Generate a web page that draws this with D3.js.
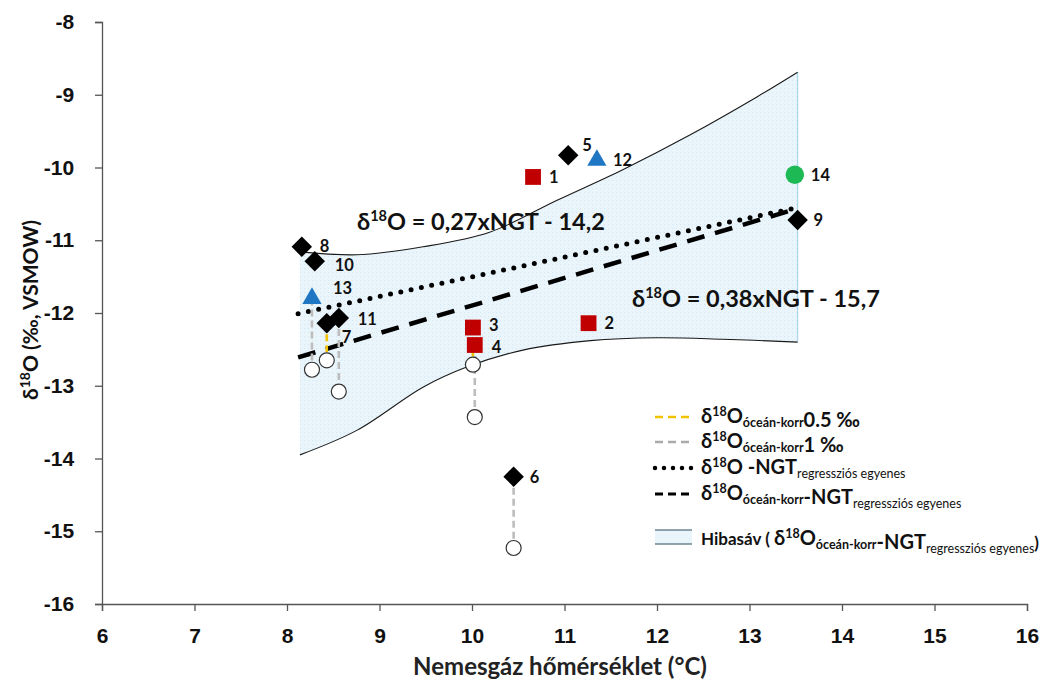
<!DOCTYPE html>
<html>
<head>
<meta charset="utf-8">
<script src="https://cdn.jsdelivr.net/npm/d3@7"></script>
<style>
  body { margin: 0; background: #fff; }
  svg { font-family: Lato, "Open Sans", sans-serif; }
</style>
</head>
<body>
<svg id="chart" width="1059" height="687"></svg>
<script>
// samples: id, noble gas temperature, measured d18O, marker type
var sampleIds = [1, 2, 3, 4, 5, 6, 7, 8, 9, 10, 11, 12, 13, 14];
var ngtValues = [10.66, 11.26, 10.01, 10.03, 11.04, 10.45, 8.43, 8.16, 13.52, 8.30, 8.56, 11.35, 8.27, 13.49];
var d18oValues = [-10.13, -12.14, -12.20, -12.44, -9.83, -14.25, -12.14, -11.09, -10.72, -11.29, -12.07, -9.90, -11.80, -10.10];
var markerTypes = ["square", "square", "square", "square", "diamond", "diamond", "diamond", "diamond", "diamond", "diamond", "diamond", "triangle", "triangle", "circle"];

// ocean corrected values (open circles) and their dashed connectors
var corrNgt = [8.27, 8.43, 8.56, 10.01, 10.03, 10.45];
var corrFrom = [-11.80, -12.14, -12.07, -12.20, -12.44, -14.25];
var corrTo = [-12.78, -12.65, -13.08, -12.71, -13.43, -15.23];
var corrStep = ["1", "0.5", "1", "0.5", "1", "1"];

// regression lines (end points)
var regNgt = [8.12, 13.45];
var regPlain = [-12.01, -10.57];
var regCorr = [-12.61, -10.59];

// error band edges
var bandUpperX = [8.14, 8.76, 9.47, 10.19, 10.92, 11.63, 12.36, 13.08, 13.52];
var bandUpperY = [-11.16, -11.20, -11.09, -10.89, -10.45, -10.03, -9.55, -9.03, -8.69];
var bandLowerX = [8.14, 8.76, 9.47, 9.95, 10.55, 11.28, 12.00, 12.71, 13.52];
var bandLowerY = [-13.95, -13.61, -13.02, -12.74, -12.51, -12.38, -12.34, -12.36, -12.40];

var xTicks = [6, 7, 8, 9, 10, 11, 12, 13, 14, 15, 16];
var yTicks = [-8, -9, -10, -11, -12, -13, -14, -15, -16];

var svg = d3.select("#chart");
var x = d3.scaleLinear().domain([6, 16]).range([102, 1027]);
var y = d3.scaleLinear().domain([-16, -8]).range([604, 22]);

var colors = { square: "#c00000", diamond: "#000", triangle: "#1f77c4", circle: "#1db954" };

// ---- error band
var curve = d3.line().x(function(d) { return x(d[0]); }).y(function(d) { return y(d[1]); }).curve(d3.curveCatmullRom);
var upper = bandUpperX.map(function(v, i) { return [v, bandUpperY[i]]; });
var lower = bandLowerX.map(function(v, i) { return [v, bandLowerY[i]]; });
var defs = svg.append("defs");
var pat = defs.append("pattern").attr("id", "dots").attr("width", 4).attr("height", 4).attr("patternUnits", "userSpaceOnUse");
pat.append("rect").attr("width", 4).attr("height", 4).attr("fill", "#eaf5fb");
pat.append("rect").attr("width", 1).attr("height", 1).attr("fill", "#d3e8f3");
svg.append("path")
  .attr("d", curve(upper) + curve(lower.slice().reverse()).replace(/^M/, "L") + "Z")
  .attr("fill", "url(#dots)");
svg.append("line")
  .attr("x1", x(bandUpperX[bandUpperX.length - 1])).attr("y1", y(bandUpperY[bandUpperY.length - 1]))
  .attr("x2", x(bandLowerX[bandLowerX.length - 1])).attr("y2", y(bandLowerY[bandLowerY.length - 1]))
  .attr("stroke", "#a9d6ec").attr("stroke-width", 1.2);
[upper, lower].forEach(function(pts) {
  svg.append("path").attr("d", curve(pts)).attr("fill", "none").attr("stroke", "#1a1a1a").attr("stroke-width", 1.1);
});

// ---- axes
var xAxis = svg.append("g").attr("transform", "translate(0,604)")
  .call(d3.axisBottom(x).tickValues(xTicks).tickSize(7).tickFormat(function(d) { return String(d); }));
var yAxis = svg.append("g").attr("transform", "translate(102,0)")
  .call(d3.axisLeft(y).tickValues(yTicks).tickSize(7).tickFormat(function(d) { return String(d); }));
[xAxis, yAxis].forEach(function(a) {
  a.select(".domain").attr("stroke", "#555").attr("stroke-width", 1.3);
  a.selectAll(".tick line").attr("stroke", "#555").attr("stroke-width", 1.3);
  a.selectAll(".tick text").attr("fill", "#111").attr("font-size", 21).attr("font-weight", "bold");
});
xAxis.selectAll(".tick text").attr("dy", "1.4em");
yAxis.selectAll(".tick text").attr("dx", "-0.85em");

svg.append("text").attr("x", 560).attr("y", 675).attr("text-anchor", "middle")
  .attr("font-size", 24).attr("font-weight", "bold").attr("fill", "#222")
  .text("Nemesgáz hőmérséklet (°C)");
var yl = svg.append("text").attr("transform", "translate(38,310) rotate(-90)").attr("text-anchor", "middle")
  .attr("font-size", 21).attr("font-weight", "bold").attr("fill", "#111");
yl.append("tspan").text("δ");
yl.append("tspan").attr("font-size", 14).attr("dy", -8).text("18");
yl.append("tspan").attr("dy", 8).text("O (‰, VSMOW)");

// ---- regression lines
svg.append("line")
  .attr("x1", x(regNgt[0])).attr("y1", y(regPlain[0])).attr("x2", x(regNgt[1])).attr("y2", y(regPlain[1]))
  .attr("stroke", "#000").attr("stroke-width", 5).attr("stroke-linecap", "round").attr("stroke-dasharray", "0,10.5");
svg.append("line")
  .attr("x1", x(regNgt[0])).attr("y1", y(regCorr[0])).attr("x2", x(regNgt[1])).attr("y2", y(regCorr[1]))
  .attr("stroke", "#000").attr("stroke-width", 4.5).attr("stroke-dasharray", "18,11");

// ---- corrected values
var stepColor = { "0.5": "#f2c100", "1": "#bdbdbd" };
corrNgt.forEach(function(v, i) {
  svg.append("line")
    .attr("x1", x(v)).attr("y1", y(corrFrom[i])).attr("x2", x(v)).attr("y2", y(corrTo[i]))
    .attr("stroke", stepColor[corrStep[i]]).attr("stroke-width", 2.6).attr("stroke-dasharray", "7,4");
});
corrNgt.forEach(function(v, i) {
  svg.append("circle").attr("cx", x(v)).attr("cy", y(corrTo[i])).attr("r", 7.5)
    .attr("fill", "#fff").attr("stroke", "#333").attr("stroke-width", 1.2);
});

// ---- measured samples
var sym = {
  square: d3.symbol().type(d3.symbolSquare).size(250),
  diamond: d3.symbol().type(d3.symbolSquare).size(210),
  triangle: d3.symbol().type(d3.symbolTriangle).size(160),
  circle: d3.symbol().type(d3.symbolCircle).size(270)
};
sampleIds.forEach(function(id, i) {
  var t = markerTypes[i];
  var rot = t === "diamond" ? " rotate(45)" : "";
  svg.append("path")
    .attr("d", sym[t]())
    .attr("transform", "translate(" + x(ngtValues[i]) + "," + y(d18oValues[i]) + ")" + rot)
    .attr("fill", colors[t]);
});

// label offsets from the marker centre
var labelOffset = { 3: [16, -1], 4: [17, 4], 5: [14, -8], 7: [15, 16], 10: [20, 5], 13: [21, -9], 8: [18, 1], 11: [19, 3] };
sampleIds.forEach(function(id, i) {
  var o = labelOffset[id] || [16, 2];
  svg.append("text")
    .attr("x", x(ngtValues[i]) + o[0]).attr("y", y(d18oValues[i]) + o[1])
    .attr("dominant-baseline", "middle")
    .attr("font-size", 16.5).attr("font-weight", "bold").attr("fill", "#111")
    .text(id);
});

// ---- equations
function deltaText(g, xPos, yPos, size, rest) {
  var t = g.append("text").attr("x", xPos).attr("y", yPos)
    .attr("font-size", size).attr("font-weight", "bold").attr("fill", "#111");
  t.append("tspan").text("δ");
  t.append("tspan").attr("font-size", size * 0.62).attr("dy", -size * 0.38).text("18");
  t.append("tspan").attr("dy", size * 0.38).text(rest);
  return t;
}
deltaText(svg, 357, 230, 23.5, "O = 0,27xNGT - 14,2");
deltaText(svg, 632, 307, 23.5, "O = 0,38xNGT - 15,7");

// ---- legend
var lg = svg.append("g");
function legendLabel(yPos, sub, tail, tailSmall, hibasav) {
  var t = lg.append("text").attr("x", 701).attr("y", yPos)
    .attr("font-weight", "bold").attr("fill", "#111").attr("font-size", 20);
  if (hibasav) t.append("tspan").attr("font-size", 17).text("Hibasáv ( ");
  t.append("tspan").text("δ");
  t.append("tspan").attr("font-size", 12.5).attr("dy", -7).text("18");
  t.append("tspan").attr("dy", 7).text("O");
  if (sub) {
    t.append("tspan").attr("font-size", 12.5).attr("dy", 4).text(sub);
    t.append("tspan").attr("dy", -4).text("");
  }
  t.append("tspan").text(tail);
  if (tailSmall) {
    t.append("tspan").attr("font-size", 12.5).attr("font-weight", "normal").attr("dy", 4).text(tailSmall);
    t.append("tspan").attr("dy", -4).text("");
  }
  if (hibasav) t.append("tspan").attr("font-size", 17).attr("dy", -4).text(")");
}
lg.append("line").attr("x1", 655).attr("x2", 692).attr("y1", 417).attr("y2", 417)
  .attr("stroke", "#f2c100").attr("stroke-width", 2.5).attr("stroke-dasharray", "8,5");
legendLabel(423, "óceán-korr", "0.5 ‰");
lg.append("line").attr("x1", 655).attr("x2", 692).attr("y1", 442).attr("y2", 442)
  .attr("stroke", "#aaa").attr("stroke-width", 2.5).attr("stroke-dasharray", "8,5");
legendLabel(448, "óceán-korr", "1 ‰");
lg.append("line").attr("x1", 655).attr("x2", 692).attr("y1", 468).attr("y2", 468)
  .attr("stroke", "#000").attr("stroke-width", 4.5).attr("stroke-linecap", "round").attr("stroke-dasharray", "0,9");
legendLabel(474, null, " -NGT", "regressziós egyenes");
lg.append("line").attr("x1", 655).attr("x2", 692).attr("y1", 494).attr("y2", 494)
  .attr("stroke", "#000").attr("stroke-width", 3).attr("stroke-dasharray", "8,5");
legendLabel(500, "óceán-korr", "-NGT", "regressziós egyenes");
lg.append("rect").attr("x", 655).attr("y", 530).attr("width", 37).attr("height", 14).attr("fill", "#eaf5fb");
lg.append("line").attr("x1", 655).attr("x2", 692).attr("y1", 530).attr("y2", 530).attr("stroke", "#2a4a5a").attr("stroke-width", 1);
lg.append("line").attr("x1", 655).attr("x2", 692).attr("y1", 544).attr("y2", 544).attr("stroke", "#2a4a5a").attr("stroke-width", 1);
legendLabel(545, "óceán-korr", "-NGT", "regressziós egyenes", true);
</script>
</body>
</html>
